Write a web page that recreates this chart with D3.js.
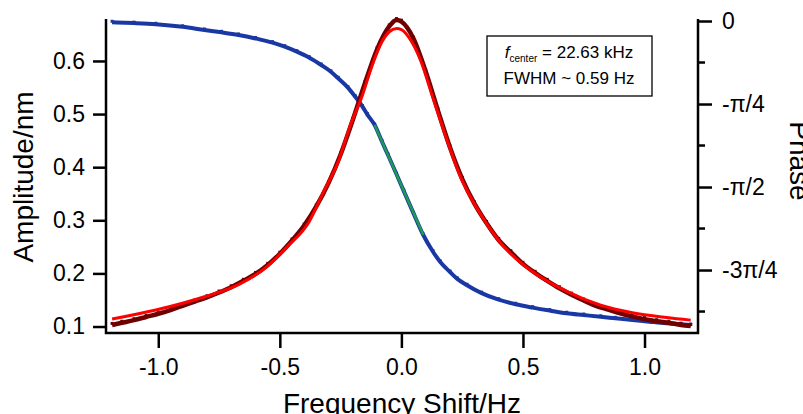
<!DOCTYPE html>
<html>
<head>
<meta charset="utf-8">
<script src="https://cdn.jsdelivr.net/npm/d3@7"></script>
<style>
  body { margin: 0; background: #fff; }
  svg { display: block; font-family: "Liberation Sans", Arial, sans-serif; }
  .tick text { font-size: 23px; fill: #000; }
</style>
</head>
<body>
<script>
// amplitude data (dark red dots)
var ampFreq = [-1.19,-1.15,-1.10,-1.05,-1.00,-0.95,-0.90,-0.85,-0.80,-0.75,-0.70,-0.65,-0.60,-0.55,-0.50,-0.45,-0.40,-0.35,-0.30,-0.25,-0.20,-0.15,-0.10,-0.05,-0.02,0.00,0.05,0.10,0.15,0.20,0.25,0.30,0.35,0.40,0.45,0.50,0.55,0.60,0.65,0.70,0.75,0.80,0.85,0.90,0.95,1.00,1.05,1.10,1.15,1.19];
var ampData = [0.103,0.107,0.112,0.118,0.124,0.131,0.139,0.147,0.155,0.164,0.174,0.186,0.199,0.216,0.237,0.262,0.290,0.326,0.370,0.424,0.489,0.558,0.622,0.665,0.677,0.674,0.642,0.580,0.507,0.437,0.378,0.332,0.295,0.263,0.240,0.218,0.201,0.186,0.172,0.160,0.149,0.139,0.132,0.125,0.119,0.114,0.110,0.107,0.103,0.101];

// lorentzian fit (red)
var fitFreq = [-1.19,-1.01,-0.81,-0.67,-0.56,-0.47,-0.38,-0.32,-0.26,-0.21,-0.16,-0.12,-0.08,-0.05,-0.02,0.00,0.03,0.08,0.13,0.19,0.24,0.31,0.40,0.54,0.68,0.82,0.95,1.09,1.19];
var fitAmp = [0.114,0.131,0.156,0.179,0.210,0.250,0.297,0.354,0.410,0.479,0.536,0.592,0.636,0.655,0.661,0.659,0.645,0.600,0.530,0.448,0.385,0.323,0.262,0.203,0.166,0.140,0.126,0.117,0.112];

// phase data (blue), radians
var phaseFreq = [-1.19,-1.10,-1.01,-0.90,-0.81,-0.74,-0.67,-0.60,-0.53,-0.48,-0.43,-0.38,-0.33,-0.29,-0.26,-0.22,-0.19,-0.16,-0.14,-0.11,-0.08,-0.055,-0.02,0.01,0.05,0.09,0.13,0.16,0.20,0.23,0.27,0.33,0.40,0.47,0.54,0.61,0.68,0.75,0.82,0.88,0.95,1.02,1.09,1.15,1.19];
var phaseData = [-0.012,-0.020,-0.031,-0.055,-0.085,-0.107,-0.132,-0.165,-0.205,-0.243,-0.290,-0.345,-0.416,-0.480,-0.542,-0.630,-0.716,-0.810,-0.885,-0.984,-1.14,-1.268,-1.45,-1.61,-1.82,-2.025,-2.183,-2.28,-2.375,-2.44,-2.50,-2.575,-2.637,-2.68,-2.712,-2.740,-2.765,-2.782,-2.799,-2.813,-2.829,-2.845,-2.860,-2.869,-2.876];

// linear fit of phase near resonance (green)
var slopeFreq = [-0.11, 0.09];
var slopePhase = [-0.984, -2.025];

var xTicks = [-1.0, -0.5, 0.0, 0.5, 1.0];
var ampTicks = [0.1, 0.2, 0.3, 0.4, 0.5, 0.6];
var phaseMajor = [0, -Math.PI/4, -Math.PI/2, -3*Math.PI/4];
var phaseMajorLabels = ["0", "-\u03c0/4", "-\u03c0/2", "-3\u03c0/4"];
var phaseMinor = [-Math.PI/8, -3*Math.PI/8, -5*Math.PI/8, -7*Math.PI/8];

var chart = {
  "width": 803,
  "height": 414,
  "left": 106,
  "right": 698,
  "top": 19,
  "bottom": 333
};

var x = d3.scaleLinear().domain([-1.215, 1.22]).range([chart.left, chart.right]);
var yAmp = d3.scaleLinear().domain([0.0878, 0.679]).range([chart.bottom, chart.top]);
var yPhase = d3.scaleLinear().domain([-2.952, 0.019]).range([chart.bottom, chart.top]);

var svg = d3.select("body").append("svg")
  .attr("width", chart.width)
  .attr("height", chart.height);

function zip(a, b){
  return a.map(function(d, i){ return [d, b[i]]; });
}

// plain hyphen for minus, like the original
function fmt1(d){
  return d3.format(".1f")(d).replace("\u2212", "-");
}

var ampLine = d3.line()
  .x(function(d){ return x(d[0]); })
  .y(function(d){ return yAmp(d[1]); })
  .curve(d3.curveMonotoneX);
var phaseLine = d3.line()
  .x(function(d){ return x(d[0]); })
  .y(function(d){ return yPhase(d[1]); })
  .curve(d3.curveMonotoneX);

//phase data
svg.append("path")
  .attr("d", phaseLine(zip(phaseFreq, phaseData)))
  .attr("fill", "none")
  .attr("stroke", "#1a38a4")
  .attr("stroke-width", 4);
svg.append("g").selectAll("rect")
  .data(zip(phaseFreq, phaseData))
  .enter().append("rect")
  .attr("x", function(d){ return x(d[0]) - 1.5; })
  .attr("y", function(d){ return yPhase(d[1]) - 2.5; })
  .attr("width", 3).attr("height", 3)
  .attr("fill", "#1a38a4");

//linear phase fit
svg.append("path")
  .attr("d", phaseLine(zip(slopeFreq, slopePhase)))
  .attr("fill", "none")
  .attr("stroke", "#1e9a55")
  .attr("stroke-width", 2.5);

//amplitude data
svg.append("path")
  .attr("d", ampLine(zip(ampFreq, ampData)))
  .attr("fill", "none")
  .attr("stroke", "#6e0000")
  .attr("stroke-width", 4.5);
svg.append("g").selectAll("rect")
  .data(zip(ampFreq, ampData))
  .enter().append("rect")
  .attr("x", function(d){ return x(d[0]) - 1.5; })
  .attr("y", function(d){ return yAmp(d[1]) - 3; })
  .attr("width", 3).attr("height", 3)
  .attr("fill", "#6e0000");

//fit
svg.append("path")
  .attr("d", ampLine(zip(fitFreq, fitAmp)))
  .attr("fill", "none")
  .attr("stroke", "#ff0000")
  .attr("stroke-width", 3);

//axes
var xAxis = svg.append("g")
  .attr("transform", "translate(0," + chart.bottom + ")")
  .call(d3.axisBottom(x).tickValues(xTicks).tickFormat(fmt1)
    .tickSize(15).tickSizeOuter(0).tickPadding(11));
var yAxis = svg.append("g")
  .attr("transform", "translate(" + chart.left + ",0)")
  .call(d3.axisLeft(yAmp).tickValues(ampTicks).tickFormat(fmt1)
    .tickSize(13).tickSizeOuter(0).tickPadding(8));
var pAxis = svg.append("g")
  .attr("transform", "translate(" + chart.right + ",0)")
  .call(d3.axisRight(yPhase).tickValues(phaseMajor)
    .tickFormat(function(d, i){ return phaseMajorLabels[i]; })
    .tickSize(14).tickSizeOuter(0).tickPadding(10));
svg.append("g")
  .attr("transform", "translate(" + chart.right + ",0)")
  .selectAll("line")
  .data(phaseMinor)
  .enter().append("line")
  .attr("x1", 0).attr("x2", 7)
  .attr("y1", function(d){ return yPhase(d); })
  .attr("y2", function(d){ return yPhase(d); })
  .attr("stroke", "#000")
  .attr("stroke-width", 2.5);

[xAxis, yAxis, pAxis].forEach(function(a){
  a.select(".domain").remove();
  a.selectAll(".tick line").attr("stroke", "#000").attr("stroke-width", 2.5);
  a.selectAll(".tick text").attr("fill", "#000");
});

//axis lines drawn as one frame without top
svg.append("path")
  .attr("d", "M" + chart.left + "," + chart.top + "V" + chart.bottom +
             "H" + chart.right + "V" + chart.top)
  .attr("fill", "none")
  .attr("stroke", "#000")
  .attr("stroke-width", 2.5)
  .attr("stroke-linejoin", "miter");

//axis titles (cut at the edges, as in the original)
svg.append("text")
  .attr("transform", "translate(33,177) rotate(-90)")
  .attr("text-anchor", "middle")
  .style("font-size", "28px")
  .text("Amplitude/nm");
svg.append("text")
  .attr("x", (chart.left + chart.right) / 2)
  .attr("y", 413)
  .attr("text-anchor", "middle")
  .style("font-size", "28px")
  .text("Frequency Shift/Hz");
svg.append("text")
  .attr("transform", "translate(790,161) rotate(90)")
  .attr("text-anchor", "middle")
  .style("font-size", "28px")
  .text("Phase");

//inset box
var inset = svg.append("g");
inset.append("rect")
  .attr("x", 487).attr("y", 36)
  .attr("width", 165).attr("height", 60)
  .attr("fill", "#fff")
  .attr("stroke", "#000")
  .attr("stroke-width", 1.3);
var l1 = inset.append("text")
  .attr("x", 569).attr("y", 58)
  .attr("text-anchor", "middle")
  .style("font-size", "17px");
l1.append("tspan").style("font-style", "italic").text("f");
l1.append("tspan").attr("dy", 4).style("font-size", "10px").text("center");
l1.append("tspan").attr("dy", -4).text(" = 22.63 kHz");
inset.append("text")
  .attr("x", 569).attr("y", 84)
  .attr("text-anchor", "middle")
  .style("font-size", "17px")
  .text("FWHM ~ 0.59 Hz");
</script>
</body>
</html>
